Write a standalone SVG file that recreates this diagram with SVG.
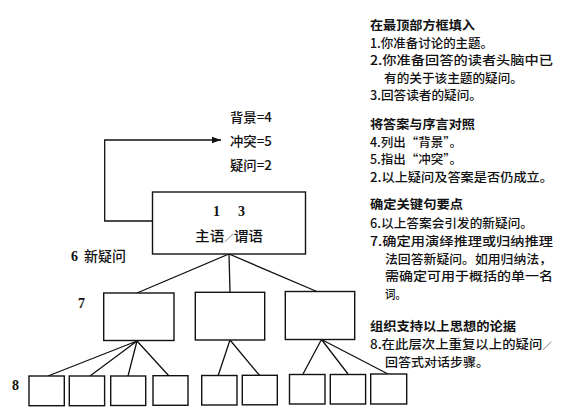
<svg xmlns="http://www.w3.org/2000/svg" width="566" height="409" viewBox="0 0 566 409">
<style>
.box{fill:#fff;stroke:#111;stroke-width:1.4}
.ln{fill:none;stroke:#111;stroke-width:1.3}
.cjk{font-family:"Noto Sans CJK SC","Noto Sans",sans-serif;fill:#111}
.h{font-size:12.5px;font-weight:bold}
.b{font-size:12.5px;font-weight:500}
.lab{font-size:13px;font-weight:500}
.sl{font-size:9px}
.num{font-family:"Liberation Serif","Noto Sans CJK SC",serif;font-weight:bold;font-size:14px;fill:#111}
</style>
<defs>
<marker id="arr" markerWidth="10" markerHeight="8" refX="9" refY="4" orient="auto" markerUnits="userSpaceOnUse">
<path d="M0,0.8 L9,4 L0,7.2 Z" fill="#111"/>
</marker>
</defs>
<rect width="566" height="409" fill="#fff"/>

<g id="connectors">
<path class="ln" d="M152,221 H104.7 V140 H221" marker-end="url(#arr)"/>
<path class="ln" d="M229,254 L137,293 M229,254 L230,292 M229,254 L318,292"/>
<path class="ln" d="M137,341 L48,376 M137,341 L90,376 M137,341 L128,376 M137,341 L169,376"/>
<path class="ln" d="M230,340 L218,376 M230,340 L260,376"/>
<path class="ln" d="M321.5,339.5 L303,374 M321.5,339.5 L348,374 M321.5,339.5 L388,374"/>
</g>

<g id="ctx-labels">
<text class="cjk lab" x="230" y="122" textLength="42" lengthAdjust="spacingAndGlyphs">背景=4</text>
<text class="cjk lab" x="230" y="146" textLength="42" lengthAdjust="spacingAndGlyphs">冲突=5</text>
<text class="cjk lab" x="230" y="170" textLength="42" lengthAdjust="spacingAndGlyphs">疑问=2</text>
</g>

<g id="top-node">
<rect class="box" x="152.5" y="192" width="153" height="62"/>
<text class="num" x="213" y="216">1</text>
<text class="num" x="238" y="216">3</text>
<text class="cjk" x="195" y="241" font-size="14" font-weight="500" textLength="68" lengthAdjust="spacingAndGlyphs">主语<tspan class="sl">／</tspan>谓语</text>
</g>

<g id="label-6">
<text class="num" x="71" y="261">6</text>
<text class="cjk" x="84" y="261" font-size="14" font-weight="500" textLength="42" lengthAdjust="spacingAndGlyphs">新疑问</text>
</g>
<g id="label-7"><text class="num" x="78" y="308">7</text></g>
<g id="label-8"><text class="num" x="12" y="390">8</text></g>

<g id="level2-1"><rect class="box" x="103.7" y="293" width="70.3" height="47.5"/></g>
<g id="level2-2"><rect class="box" x="195.3" y="292.3" width="69.4" height="47.7"/></g>
<g id="level2-3"><rect class="box" x="285.3" y="291.5" width="69.4" height="48"/></g>

<g id="level3-1"><rect class="box" x="29" y="376" width="35.3" height="29.7"/></g>
<g id="level3-2"><rect class="box" x="69.3" y="376" width="35.3" height="29.7"/></g>
<g id="level3-3"><rect class="box" x="110.7" y="376" width="35" height="29.5"/></g>
<g id="level3-4"><rect class="box" x="153" y="375.7" width="35" height="29.6"/></g>
<g id="level3-5"><rect class="box" x="201.7" y="375.5" width="35.3" height="29.5"/></g>
<g id="level3-6"><rect class="box" x="242.3" y="375.3" width="35" height="29.5"/></g>
<g id="level3-7"><rect class="box" x="289.5" y="374.5" width="35.5" height="29.5"/></g>
<g id="level3-8"><rect class="box" x="330.3" y="374.5" width="35.3" height="29.5"/></g>
<g id="level3-9"><rect class="box" x="370.7" y="374" width="36" height="30"/></g>

<g id="steps">
<text class="cjk h" x="370" y="30" textLength="105" lengthAdjust="spacingAndGlyphs">在最顶部方框填入</text>
<text class="cjk b" x="370" y="47.5" textLength="123" lengthAdjust="spacingAndGlyphs">1.你准备讨论的主题。</text>
<text class="cjk b" x="370" y="65" textLength="183" lengthAdjust="spacingAndGlyphs">2.你准备回答的读者头脑中已</text>
<text class="cjk b" x="384" y="82.5" textLength="139" lengthAdjust="spacingAndGlyphs">有的关于该主题的疑问。</text>
<text class="cjk b" x="370" y="100" textLength="112" lengthAdjust="spacingAndGlyphs">3.回答读者的疑问。</text>

<text class="cjk h" x="370" y="129" textLength="105" lengthAdjust="spacingAndGlyphs">将答案与序言对照</text>
<text class="cjk b" x="370" y="146.5" textLength="92" lengthAdjust="spacingAndGlyphs">4.列出“背景”。</text>
<text class="cjk b" x="370" y="164" textLength="92" lengthAdjust="spacingAndGlyphs">5.指出“冲突”。</text>
<text class="cjk b" x="370" y="181.5" textLength="183" lengthAdjust="spacingAndGlyphs">2.以上疑问及答案是否仍成立。</text>

<text class="cjk h" x="370" y="209" textLength="93" lengthAdjust="spacingAndGlyphs">确定关键句要点</text>
<text class="cjk b" x="370" y="227.5" textLength="163" lengthAdjust="spacingAndGlyphs">6.以上答案会引发的新疑问。</text>
<text class="cjk b" x="370" y="245.5" textLength="183" lengthAdjust="spacingAndGlyphs">7.确定用演绎推理或归纳推理</text>
<text class="cjk b" x="385" y="263.5" textLength="167" lengthAdjust="spacingAndGlyphs">法回答新疑问。如用归纳法，</text>
<text class="cjk b" x="385" y="281" textLength="168" lengthAdjust="spacingAndGlyphs">需确定可用于概括的单一名</text>
<text class="cjk b" x="385" y="298.5" textLength="21" lengthAdjust="spacingAndGlyphs">词。</text>

<text class="cjk h" x="370" y="331" textLength="146" lengthAdjust="spacingAndGlyphs">组织支持以上思想的论据</text>
<text class="cjk b" x="370" y="348.5" textLength="182" lengthAdjust="spacingAndGlyphs">8.在此层次上重复以上的疑问<tspan class="sl">／</tspan></text>
<text class="cjk b" x="385" y="366.5" textLength="104" lengthAdjust="spacingAndGlyphs">回答式对话步骤。</text>
</g>
</svg>
